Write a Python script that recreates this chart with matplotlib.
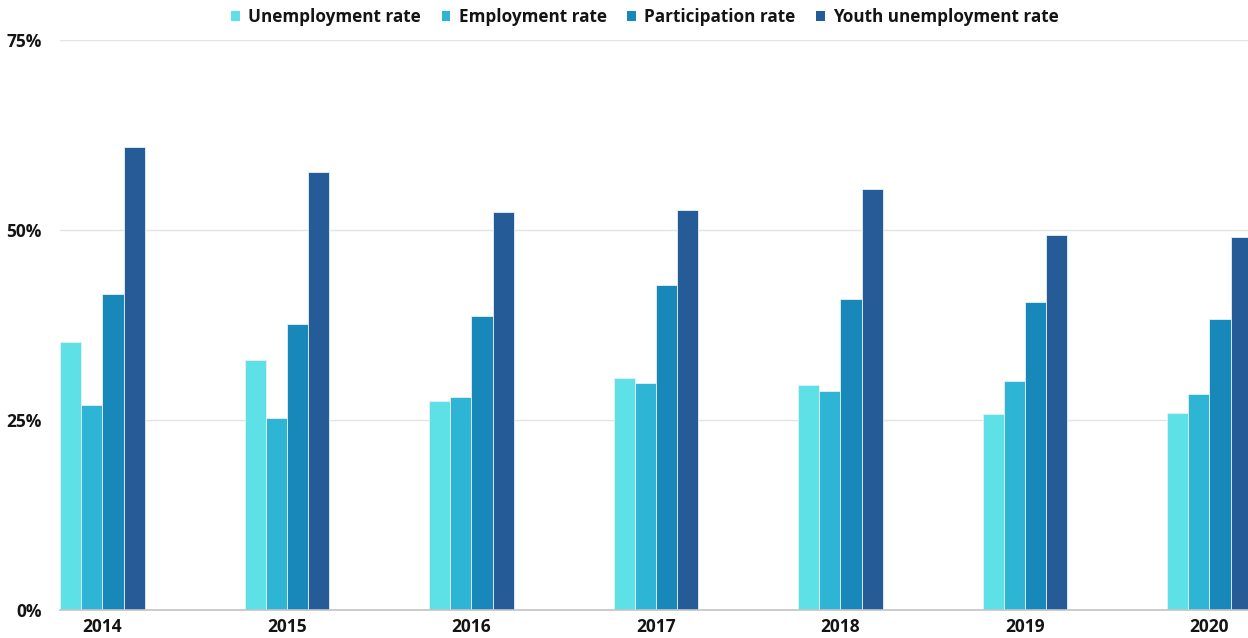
import numpy as np
import matplotlib.pyplot as plt
from matplotlib.patches import Patch

plt.rcParams['font.family'] = ['Open Sans', 'DejaVu Sans']

years = ['2014', '2015', '2016', '2017', '2018', '2019', '2020']
unemployment = [35.3, 32.9, 27.5, 30.5, 29.6, 25.8, 25.9]
employment = [27.0, 25.2, 28.0, 29.9, 28.8, 30.1, 28.4]
participation = [41.6, 37.6, 38.7, 42.8, 40.9, 40.5, 38.3]
youth = [60.9, 57.6, 52.4, 52.6, 55.4, 49.3, 49.1]

series = [
    ('Unemployment rate', unemployment, '#5ee1e6'),
    ('Employment rate', employment, '#2eb4d5'),
    ('Participation rate', participation, '#1888bb'),
    ('Youth unemployment rate', youth, '#255c98'),
]

fig = plt.figure(figsize=(12.48, 6.38), dpi=100)
ax = fig.add_axes([60 / 1248, 28 / 638, 1 - 60 / 1248, 570 / 638])

x = np.arange(len(years))
w = 0.115
for i, (name, vals, col) in enumerate(series):
    ax.bar(x + (i - 1.5) * w, vals, width=w, color=col,
           edgecolor='#e8f0f5', linewidth=0.6, zorder=3)

ax.set_xlim(-2 * w, (1248 - 102.5) / 184.5)
ax.set_ylim(0, 75)
ax.set_yticks([0, 25, 50, 75])
ax.set_yticklabels(['0%', '25%', '50%', '75%'])
ax.set_xticks(x)
ax.set_xticklabels(years)

ax.grid(axis='y', color='#e4e4e4', linewidth=1, zorder=0)
for s in ['top', 'right', 'left']:
    ax.spines[s].set_visible(False)
ax.spines['bottom'].set_color('#c4c4c4')
ax.spines['bottom'].set_linewidth(1.2)
ax.spines['bottom'].set_zorder(4)
ax.tick_params(axis='both', length=0, labelsize=12.5, labelcolor='#141414')
ax.tick_params(axis='y', pad=13)
ax.tick_params(axis='x', pad=6)
for lbl in ax.get_xticklabels() + ax.get_yticklabels():
    lbl.set_fontweight('bold')

handles = [Patch(facecolor=c, edgecolor='none') for _, _, c in series]
fig.legend(handles, [s[0] for s in series], loc='center', ncol=4,
           bbox_to_anchor=(645 / 1248, 1 - 17 / 638), frameon=False,
           prop={'weight': 'bold', 'size': 12.3}, handlelength=0.5,
           handleheight=0.5, handletextpad=0.5, columnspacing=1.2,
           labelcolor='#141414')

fig.savefig('out.png', dpi=100)
